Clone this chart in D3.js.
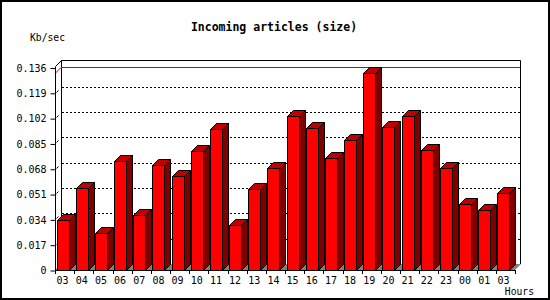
<!DOCTYPE html>
<html>
<head>
<meta charset="utf-8">
<script src="https://cdn.jsdelivr.net/npm/d3@7"></script>
<style>
  body { margin: 0; background: #fff; }
  text { font-family: "DejaVu Sans Mono", monospace; fill: #000; }
</style>
</head>
<body>
<div id="svgzone"></div>
<script>
// data
let hours = ["03","04","05","06","07","08","09","10","11","12","13","14",
             "15","16","17","18","19","20","21","22","23","00","01","03"];
let sizes = [0.0336, 0.0554, 0.0246, 0.0735, 0.0369, 0.0702, 0.0628, 0.0802,
             0.0950, 0.0302, 0.0541, 0.0688, 0.1037, 0.0956, 0.0749, 0.0876,
             0.1325, 0.0963, 0.1032, 0.0809, 0.0682, 0.0440, 0.0404, 0.0514];
let yTicks = [0, 0.017, 0.034, 0.051, 0.068, 0.085, 0.102, 0.119, 0.136];

let width = 550, height = 300,
    plotLeft = 55, plotRight = 515, plotBottom = 270, plotTop = 67.5,
    depth = 6;

let svg = d3.select("#svgzone")
    .append("svg")
    .attr("width", width)
    .attr("height", height);

// outer frame
svg.append("rect")
    .attr("x", 1).attr("y", 1)
    .attr("width", width - 2).attr("height", height - 2)
    .attr("fill", "white")
    .attr("stroke", "black")
    .attr("stroke-width", 2);

// scales
let x = d3.scaleBand()
    .domain(d3.range(hours.length))
    .range([plotLeft, plotRight])
    .padding(0);
let y = d3.scaleLinear()
    .domain([0, yTicks[yTicks.length - 1]])
    .range([plotBottom, plotTop]);

let step = x.step();
let barW = Math.round(step * 0.62);
let barX = i => Math.round(x(i) + step * 0.08) + 0.5;
let py = v => Math.round(y(v)) + 0.5;

let wallTop = Math.round(y.range()[1]) - depth - 1.5;

// floor
svg.append("polygon")
    .attr("points", [[plotLeft, plotBottom], [plotLeft + depth, plotBottom - depth],
                     [plotRight + depth, plotBottom - depth], [plotRight, plotBottom]].join(" "))
    .attr("fill", "#808080");

// back wall outline
svg.append("path")
    .attr("d", "M" + (plotLeft + depth + 0.5) + "," + (plotBottom - depth) +
               "V" + wallTop + "H" + (plotRight + depth - 0.5) + "V" + (plotBottom - depth))
    .attr("fill", "none")
    .attr("stroke", "black");

// dashed grid on the back wall
svg.append("g")
    .selectAll("line")
    .data(yTicks.slice(1, -1))
    .enter()
    .append("line")
    .attr("x1", plotLeft + depth + 1)
    .attr("x2", plotRight + depth - 1)
    .attr("y1", d => py(d) - depth)
    .attr("y2", d => py(d) - depth)
    .attr("stroke", "black")
    .attr("stroke-dasharray", "2,2");

// small depth ticks on the left
svg.append("g")
    .selectAll("line")
    .data(yTicks.slice(1, -1))
    .enter()
    .append("line")
    .attr("x1", plotLeft + 1.5)
    .attr("x2", plotLeft + 3.5)
    .attr("y1", d => py(d) - 1)
    .attr("y2", d => py(d) - 3)
    .attr("stroke", "black");

// max line
let maxV = d3.max(sizes);
svg.append("path")
    .attr("d", "M" + plotLeft + "," + py(maxV) + "L" + (plotLeft + depth) + "," + (py(maxV) - depth) +
               "H" + (plotRight + depth - 1))
    .attr("fill", "none")
    .attr("stroke", "#e00000");

// front axis lines
svg.append("path")
    .attr("d", "M" + (plotLeft + depth + 0.5) + "," + wallTop + "L" + (plotLeft + 0.5) + "," + (wallTop + depth) +
               "V" + (plotBottom + 0.5) + "H" + plotRight)
    .attr("fill", "none")
    .attr("stroke", "black");

// left axis labels
let yAxis = svg.append("g")
    .attr("transform", "translate(" + (plotLeft + 0.5) + ",0.5)")
    .call(d3.axisLeft(y)
        .tickValues(yTicks)
        .tickSize(5)
        .tickPadding(4)
        .tickFormat(d => d === 0 ? "0" : d3.format(".3f")(d)));
yAxis.select(".domain").remove();
yAxis.selectAll("text").style("font-size", "10px").style("font-family", "DejaVu Sans Mono");

// bottom labels
let xAxis = svg.append("g")
    .attr("transform", "translate(-2," + plotBottom + ")")
    .call(d3.axisBottom(x)
        .tickSize(0)
        .tickPadding(7)
        .tickFormat(i => hours[i]));
xAxis.select(".domain").remove();
xAxis.selectAll("text").style("font-size", "10px").style("font-family", "DejaVu Sans Mono");

// tick marks at slot boundaries
svg.append("g")
    .selectAll("line")
    .data(d3.range(hours.length + 1))
    .enter()
    .append("line")
    .attr("x1", i => Math.round(plotLeft + i * step) + 0.5)
    .attr("x2", i => Math.round(plotLeft + i * step) + 0.5)
    .attr("y1", plotBottom)
    .attr("y2", plotBottom + 4)
    .attr("stroke", "black");

// bars
let bars = svg.append("g")
    .selectAll("g")
    .data(sizes)
    .enter()
    .append("g");

bars.append("rect")
    .attr("x", (d, i) => barX(i))
    .attr("y", d => py(d))
    .attr("width", barW)
    .attr("height", d => plotBottom + 0.5 - py(d))
    .attr("fill", "#ff0000")
    .attr("stroke", "black");

bars.append("polygon")
    .attr("points", (d, i) => {
        let x0 = barX(i), y0 = py(d);
        return [[x0, y0], [x0 + depth, y0 - depth], [x0 + barW + depth, y0 - depth], [x0 + barW, y0]].join(" ");
    })
    .attr("fill", "#c00000")
    .attr("stroke", "black");

bars.append("polygon")
    .attr("points", (d, i) => {
        let x1 = barX(i) + barW, y0 = py(d);
        return [[x1, y0], [x1 + depth, y0 - depth], [x1 + depth, plotBottom + 0.5 - depth], [x1, plotBottom + 0.5]].join(" ");
    })
    .attr("fill", "#800000")
    .attr("stroke", "black");

// titles
svg.append("text")
    .attr("x", 274)
    .attr("y", 31)
    .attr("text-anchor", "middle")
    .style("font-size", "11.5px")
    .style("font-weight", "bold")
    .text("Incoming articles (size)");

svg.append("text")
    .attr("x", 30)
    .attr("y", 40.5)
    .style("font-size", "9.7px")
    .text("Kb/sec");

svg.append("text")
    .attr("x", 534)
    .attr("y", 295)
    .attr("text-anchor", "end")
    .style("font-size", "9.7px")
    .text("Hours");
</script>
</body>
</html>
